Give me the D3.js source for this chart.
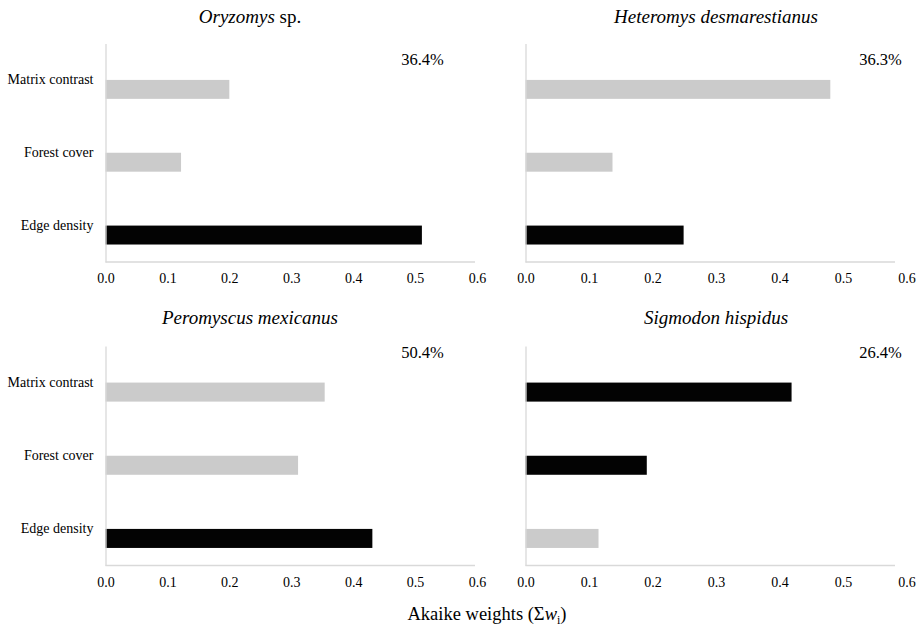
<!DOCTYPE html>
<html>
<head>
<meta charset="utf-8">
<script src="https://cdn.jsdelivr.net/npm/d3@7"></script>
<style>
  body { margin: 0; background: #fff; }
</style>
</head>
<body>
<div id="chart"></div>
<script>
// Data
const speciesGenus = ["Oryzomys", "Heteromys desmarestianus", "Peromyscus mexicanus", "Sigmodon hispidus"];
const speciesSuffix = [" sp.", "", "", ""];
const variables = ["Matrix contrast", "Forest cover", "Edge density"];
const weights = [
    [0.200, 0.122, 0.511],
    [0.480, 0.137, 0.249],
    [0.354, 0.311, 0.431],
    [0.419, 0.191, 0.115]
];
// black bar = important variable, grey = not
const important = [
    [false, false, true],
    [false, false, true],
    [false, false, true],
    [true, true, false]
];
const explained = ["36.4%", "36.3%", "50.4%", "26.4%"];
const xTicks = [0, 0.1, 0.2, 0.3, 0.4, 0.5, 0.6];
const xTitle = "Akaike weights";

// Layout of the 2 x 2 grid
const width = 923, height = 628;
const serif = "Liberation Serif, Times New Roman, serif";
const cols = [
    { x0: 105.5, x1: 477, axisEnd: 475, titleX: 250, pctX: 422.5 },
    { x0: 525.5, x1: 906.5, axisEnd: 895, titleX: 716, pctX: 880.5 }
];
const rows = [
    { top: 43.5, bottom: 262, titleY: 23, pctY: 65 },
    { top: 346, bottom: 565.5, titleY: 324, pctY: 358 }
];
const axisColor = "#d9d9d9";
const greyBar = "#cbcbcb";
const blackBar = "#030303";

const svg = d3.select("#chart")
    .append("svg")
    .attr("width", width)
    .attr("height", height)
    .style("font-family", serif);

speciesGenus.forEach(function (name, i) {
    const col = cols[i % 2];
    const row = rows[Math.floor(i / 2)];

    const x = d3.scaleLinear().domain([0, 0.6]).range([col.x0, col.x1]);
    const y = d3.scaleBand().domain(variables).range([row.top, row.bottom]);
    const g = svg.append("g");

    // Bars sit in the lower half of each band
    g.selectAll(".bar")
        .data(variables)
        .enter()
        .append("rect")
        .attr("class", "bar")
        .attr("x", x(0))
        .attr("y", function (d) { return y(d) + y.bandwidth() / 2; })
        .attr("width", function (d, j) { return x(weights[i][j]) - x(0); })
        .attr("height", y.bandwidth() * 0.26)
        .attr("fill", function (d, j) { return important[i][j] ? blackBar : greyBar; });

    // Vertical axis (labels only on the left column)
    const yAxis = d3.axisLeft(y).tickSize(0).tickPadding(12);
    if (i % 2 === 1) yAxis.tickFormat("");
    const yg = g.append("g")
        .attr("transform", "translate(" + x(0) + ",0)")
        .call(yAxis);
    yg.select(".domain").attr("stroke", axisColor).attr("stroke-width", 1.3);
    yg.selectAll("text")
        .style("font-family", serif)
        .style("font-size", "14px")
        .attr("fill", "#000");

    // Horizontal axis
    const xAxis = d3.axisBottom(x)
        .tickValues(xTicks)
        .tickSize(0)
        .tickPadding(11.5)
        .tickFormat(d3.format(".1f"));
    const xg = g.append("g")
        .attr("transform", "translate(0," + row.bottom + ")")
        .call(xAxis);
    xg.select(".domain").remove();
    xg.selectAll("text")
        .style("font-family", serif)
        .style("font-size", "14px")
        .attr("fill", "#000");
    xg.append("line")
        .attr("x1", x(0))
        .attr("x2", col.axisEnd)
        .attr("stroke", axisColor)
        .attr("stroke-width", 1.3);

    // Panel title
    const title = g.append("text")
        .attr("x", col.titleX)
        .attr("y", row.titleY)
        .attr("text-anchor", "middle")
        .style("font-family", serif)
        .style("font-size", "19px");
    title.append("tspan").style("font-style", "italic").text(name);
    if (speciesSuffix[i]) title.append("tspan").text(speciesSuffix[i]);

    // Explained deviance
    g.append("text")
        .attr("x", col.pctX)
        .attr("y", row.pctY)
        .attr("text-anchor", "middle")
        .style("font-family", serif)
        .style("font-size", "16.5px")
        .text(explained[i]);
});

// Shared x-axis title
const xt = svg.append("text")
    .attr("x", 487)
    .attr("y", 620)
    .attr("text-anchor", "middle")
    .style("font-family", serif)
    .style("font-size", "18.5px");
xt.append("tspan").text(xTitle + " (\u03A3");
xt.append("tspan").style("font-style", "italic").text("w");
xt.append("tspan").attr("dy", 4).style("font-size", "12px").text("i");
xt.append("tspan").attr("dy", -4).text(")");
</script>
</body>
</html>
